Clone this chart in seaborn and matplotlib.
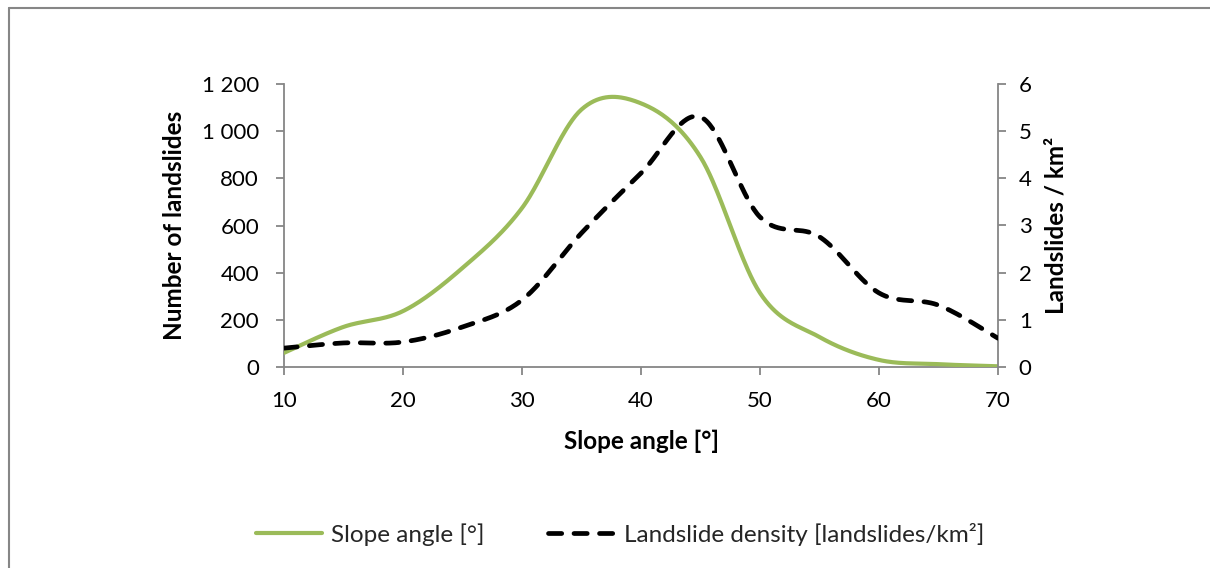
import numpy as np
import pandas as pd
import matplotlib
matplotlib.use("Agg")
import matplotlib.pyplot as plt
from matplotlib.lines import Line2D
import seaborn as sns

# Slope classes (degrees)
slope_deg = [10, 15, 20, 25, 30, 35, 40, 45, 50, 55, 60, 65, 70]
# Number of landslides per slope class (left axis)
landslide_count = [60, 170, 237, 420, 674, 1092, 1118, 890, 314, 127, 30, 12, 3]
# Landslide density, landslides per km² (right axis)
landslide_density = [0.40, 0.51, 0.53, 0.85, 1.42, 2.84, 4.11, 5.30, 3.18, 2.76, 1.57, 1.31, 0.61]

left_ticks = [0, 200, 400, 600, 800, 1000, 1200]
left_ticklabels = ["0", "200", "400", "600", "800", "1 000", "1 200"]
right_ticks = [0, 1, 2, 3, 4, 5, 6]
x_ticks = [10, 20, 30, 40, 50, 60, 70]

GREEN = "#9BBB59"
AXIS_GRAY = "#868686"
TEXT = "#000000"

TICK_FS = 16
LABEL_FS = 17.5
LEGEND_FS = 17.5


def smooth_curve(xs, ys, n=40):
    """Cubic Bezier smoothing through every point (spreadsheet-style smoothed line)."""
    p = np.column_stack([xs, ys]).astype(float)
    p = np.vstack([p[0], p, p[-1]])
    out = []
    t = np.linspace(0, 1, n)[:, None]
    for i in range(1, len(p) - 2):
        p0, p1, p2, p3 = p[i - 1], p[i], p[i + 1], p[i + 2]
        c1 = p1 + (p2 - p0) / 6.0
        c2 = p2 - (p3 - p1) / 6.0
        seg = ((1 - t) ** 3) * p1 + 3 * ((1 - t) ** 2) * t * c1 + 3 * (1 - t) * t ** 2 * c2 + t ** 3 * p2
        out.append(seg if i == 1 else seg[1:])
    out = np.vstack(out)
    return out[:, 0], out[:, 1]


sns.set_theme(style="white")
plt.rcParams["font.family"] = ["Lato", "DejaVu Sans"]

fig = plt.figure(figsize=(12.10, 5.68), dpi=100)
ax = fig.add_axes([284 / 1210, 1 - 367 / 568, (998 - 284) / 1210, (367 - 84) / 568])
ax2 = ax.twinx()

cx, cy = smooth_curve(slope_deg, landslide_count)
dx, dy = smooth_curve(slope_deg, landslide_density)
count_df = pd.DataFrame({"slope": cx, "count": cy})
density_df = pd.DataFrame({"slope": dx, "density": dy})

sns.lineplot(data=count_df, x="slope", y="count", ax=ax, color=GREEN, lw=3.0,
             sort=False, estimator=None, zorder=3)
sns.lineplot(data=density_df, x="slope", y="density", ax=ax2, color="black", lw=3.4,
             sort=False, estimator=None, zorder=4)
dash_line = ax2.lines[0]
dash_line.set_linestyle((0, (2.8, 2.6)))
dash_line.set_dash_capstyle("round")

ax.set_xlim(10, 70)
ax.set_ylim(0, 1200)
ax2.set_ylim(0, 6)
ax.set_xticks(x_ticks)
ax.set_xticklabels([str(v) for v in x_ticks])
ax.set_yticks(left_ticks)
ax.set_yticklabels(left_ticklabels)
ax2.set_yticks(right_ticks)
ax2.set_yticklabels([str(v) for v in right_ticks])

for a in (ax, ax2):
    a.grid(False)
    a.set_facecolor("none")
    a.spines["top"].set_visible(False)
    for side in ("left", "right", "bottom"):
        a.spines[side].set_color(AXIS_GRAY)
        a.spines[side].set_linewidth(1.3)
    a.tick_params(axis="both", colors=AXIS_GRAY, labelcolor=TEXT, labelsize=TICK_FS,
                  length=6, width=1.3, direction="out")
ax.tick_params(axis="y", left=True, right=False, pad=12)
ax.tick_params(axis="x", bottom=True, pad=11)
ax2.tick_params(axis="y", right=True, left=False, pad=9)
ax.spines["right"].set_visible(False)
ax2.spines["left"].set_visible(False)
ax2.spines["bottom"].set_visible(False)

ax.set_xlabel("Slope angle [°]", fontsize=LABEL_FS, fontweight="bold", color=TEXT, labelpad=14)
ax.set_ylabel("Number of landslides", fontsize=LABEL_FS, fontweight="bold", color=TEXT, labelpad=11)
ax2.set_ylabel("Landslides / km²", fontsize=LABEL_FS, fontweight="bold", color=TEXT, labelpad=9)

handles = [
    Line2D([], [], color=GREEN, lw=3.0),
    Line2D([], [], color="black", lw=3.4, linestyle=(0, (2.8, 2.6)), dash_capstyle="round"),
]
fig.legend(handles, ["Slope angle [°]", "Landslide density [landslides/km²]"],
           loc="center", bbox_to_anchor=(620 / 1210, 1 - 534 / 568), ncol=2,
           frameon=False, fontsize=LEGEND_FS, handlelength=2.7, handletextpad=0.4,
           columnspacing=2.6)

# Chart frame (top and left edges)
fig.add_artist(Line2D([9 / 1210, 9 / 1210], [0, 1 - 7.5 / 568], transform=fig.transFigure,
                      color=AXIS_GRAY, lw=1.5))
fig.add_artist(Line2D([9 / 1210, 1], [1 - 7.5 / 568, 1 - 7.5 / 568], transform=fig.transFigure,
                      color=AXIS_GRAY, lw=1.5))

fig.savefig("out.png", dpi=100, facecolor="white")
